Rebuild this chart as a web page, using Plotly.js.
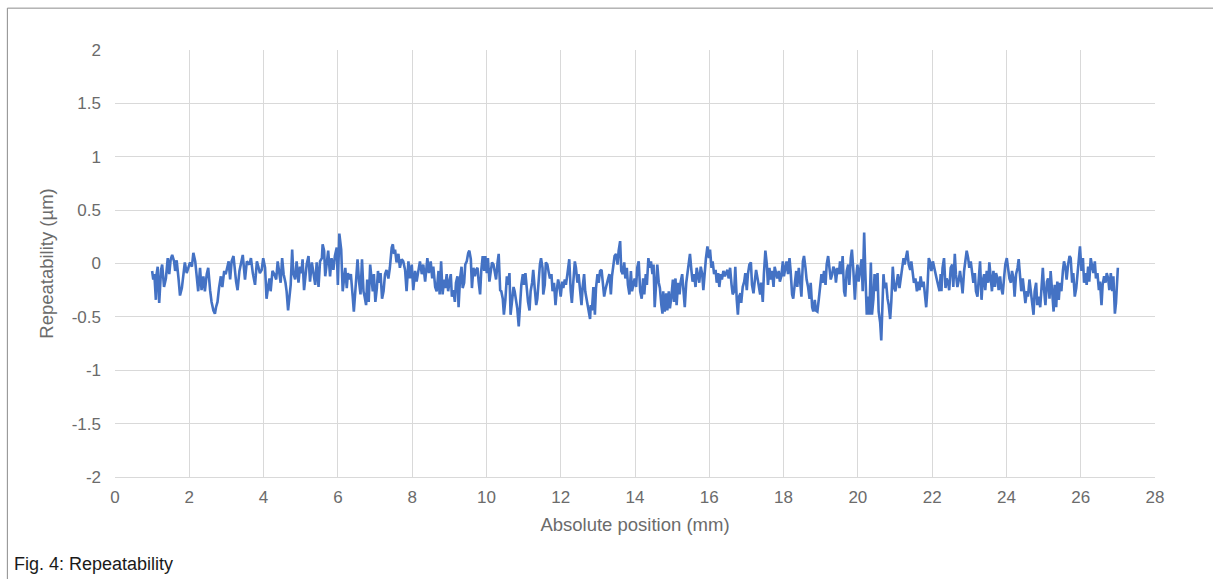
<!DOCTYPE html>
<html>
<head>
<meta charset="utf-8">
<script src="https://cdn.plot.ly/plotly-3.0.1.min.js"></script>
<style>
html,body{margin:0;padding:0;background:#fff;}
#chart{width:1213px;height:579px;}
</style>
</head>
<body>
<div id="chart"></div>
<script>
// Absolute position (mm)
const positionMm = [
1.00,1.03,1.06,1.08,1.10,1.12,1.15,1.19,1.24,1.27,1.32,1.37,1.42,1.46,1.50,1.54,1.59,1.62,1.66,1.71,1.75,1.80,1.84,1.88,1.93,1.97,2.02,2.07,2.11,2.16,2.20,2.24,2.29,2.33,2.38,2.42,2.47,2.51,2.56,2.60,2.65,2.69,2.72,2.76,2.80,2.85,2.89,2.94,2.98,3.03,3.06,3.10,3.14,3.19,3.22,3.26,3.30,3.35,
3.44,3.50,3.55,3.62,3.66,3.71,3.77,3.82,3.86,3.90,3.95,3.99,4.04,4.08,4.13,4.16,4.19,4.24,4.29,4.34,4.38,4.43,4.46,4.50,4.54,4.59,4.62,4.66,4.69,4.73,4.77,4.80,4.85,4.89,4.94,4.98,5.02,5.05,5.09,5.13,5.16,5.21,5.25,5.30,5.34,5.39,5.43,5.48,5.52,5.57,5.59,5.63,5.66,5.70,5.74,5.79,5.83,5.88,5.92,5.97,6.00,6.04,6.09,6.13,
6.17,6.20,6.24,6.27,6.31,6.35,6.40,6.43,6.47,6.51,6.53,6.57,6.61,6.65,6.69,6.72,6.76,6.79,6.83,6.87,6.90,6.94,6.97,7.01,7.05,7.08,7.12,7.15,7.19,7.23,7.27,7.31,7.36,7.40,7.45,7.48,7.51,7.54,7.58,7.63,7.67,7.72,7.76,7.81,7.85,7.90,7.94,7.99,8.03,8.08,8.12,8.17,8.21,8.26,8.30,8.35,8.41,8.45,8.50,8.54,8.57,8.62,8.66,8.71,8.74,
8.78,8.82,8.86,8.89,8.93,8.97,9.00,9.04,9.07,9.11,9.15,9.18,9.22,9.25,9.29,9.33,9.36,9.40,9.43,9.47,9.51,9.54,9.58,9.61,9.65,9.69,9.72,9.76,9.79,9.83,9.86,9.90,9.94,9.97,10.01,10.04,10.08,10.12,10.15,10.19,10.22,10.26,10.30,10.33,10.37,10.40,10.44,10.47,10.51,10.55,10.58,10.62,10.65,10.69,10.73,10.76,10.80,10.83,10.87,10.90,10.94,10.98,11.01,11.05,11.09,11.12,11.16,11.19,11.23,11.26,11.30,11.34,11.37,11.41,11.44,11.47,
11.51,11.53,11.57,11.60,11.64,11.68,11.71,11.75,11.78,11.82,11.86,11.89,11.93,11.96,12.00,12.04,12.07,12.11,12.14,12.18,12.22,12.23,12.27,12.30,12.34,12.38,12.41,12.45,12.48,12.52,12.56,12.59,12.63,12.66,12.70,12.74,12.77,12.79,12.81,12.84,12.88,12.92,12.95,12.99,13.02,13.06,13.10,13.13,13.17,13.20,13.24,13.27,13.31,13.35,13.38,13.42,13.45,13.49,13.53,13.56,13.60,13.63,13.67,13.71,13.74,13.78,13.81,13.85,13.89,13.92,13.96,13.99,14.03,14.06,14.10,14.14,
14.18,14.22,14.25,14.29,14.32,14.36,14.40,14.43,14.47,14.50,14.53,14.57,14.60,14.64,14.67,14.71,14.74,14.76,14.80,14.84,14.87,14.91,14.94,14.98,15.02,15.05,15.09,15.12,15.16,15.20,15.23,15.27,15.30,15.34,15.38,15.41,15.45,15.48,15.52,15.55,15.59,15.63,15.66,15.70,15.73,15.77,15.81,15.84,15.88,15.91,15.95,15.99,16.02,16.06,16.09,16.13,16.17,16.20,16.24,16.27,16.31,16.34,16.38,16.42,16.45,16.49,16.52,16.56,16.60,16.63,16.67,16.70,16.74,16.77,16.80,16.84,
16.86,16.90,16.94,16.97,17.01,17.04,17.08,17.12,17.15,17.19,17.22,17.26,17.30,17.33,17.37,17.40,17.44,17.47,17.51,17.55,17.58,17.62,17.65,17.69,17.73,17.76,17.80,17.83,17.87,17.90,17.94,17.98,18.01,18.05,18.08,18.12,18.16,18.19,18.23,18.26,18.30,18.34,18.37,18.41,18.44,18.48,18.52,18.55,18.59,18.62,18.66,18.70,18.73,18.77,18.80,18.84,18.87,18.91,18.95,18.98,19.02,19.05,19.09,19.13,19.16,19.20,19.23,19.27,19.31,19.34,19.38,19.41,19.45,19.49,19.52,
19.56,19.59,19.63,19.66,19.70,19.74,19.77,19.81,19.84,19.88,19.92,19.95,19.99,20.02,20.06,20.10,20.13,20.17,20.20,20.24,20.28,20.31,20.35,20.38,20.42,20.45,20.49,20.53,20.56,20.60,20.63,20.65,20.69,20.72,20.76,20.80,20.83,20.87,20.90,20.94,20.98,21.01,21.05,21.08,21.12,21.15,21.19,21.23,21.26,21.30,21.33,21.37,21.41,21.44,21.48,21.51,21.55,21.59,21.62,21.66,21.69,21.73,21.77,21.80,21.84,21.87,21.91,21.94,21.98,22.02,22.05,22.09,22.12,22.16,22.20,22.23,
22.25,22.28,22.32,22.36,22.39,22.43,22.46,22.50,22.54,22.57,22.61,22.64,22.68,22.72,22.75,22.79,22.82,22.86,22.90,22.93,22.97,23.00,23.04,23.07,23.11,23.15,23.18,23.22,23.25,23.29,23.33,23.36,23.40,23.43,23.47,23.51,23.54,23.58,23.61,23.65,23.69,23.72,23.76,23.79,23.83,23.86,23.90,23.94,23.97,24.01,24.04,24.08,24.12,24.15,24.19,24.22,24.26,24.30,24.33,24.37,24.40,24.44,24.48,24.51,24.55,24.58,24.62,24.66,24.69,24.73,24.76,24.80,24.83,24.87,24.91,
24.94,24.98,25.01,25.05,25.09,25.12,25.16,25.19,25.23,25.27,25.30,25.34,25.37,25.41,25.44,25.48,25.52,25.55,25.59,25.62,25.66,25.70,25.73,25.77,25.80,25.84,25.88,25.91,25.95,25.98,26.02,26.06,26.09,26.13,26.16,26.20,26.23,26.27,26.31,26.34,26.38,26.41,26.45,26.49,26.52,26.56,26.59,26.63,26.67,26.70,26.74,26.77,26.81,26.85,26.88,26.92,26.95,27.00
];

// Repeatability (µm)
const repeatabilityUm = [
-0.07,-0.15,-0.10,-0.24,-0.34,-0.10,-0.03,-0.37,-0.06,-0.01,-0.22,-0.14,0.05,-0.10,0.04,0.08,0.02,-0.07,0.03,-0.14,-0.30,-0.23,-0.10,0.01,-0.09,-0.04,0.01,-0.03,0.10,0.02,-0.14,-0.26,-0.04,-0.25,-0.12,-0.26,-0.10,-0.04,-0.25,-0.36,-0.44,-0.47,-0.41,-0.36,-0.23,-0.12,-0.22,-0.07,-0.10,-0.03,0.02,-0.15,0.02,0.07,-0.04,-0.17,-0.25,-0.07,
0.08,-0.15,0.02,-0.01,0.05,-0.09,-0.20,0.02,-0.03,-0.09,-0.06,0.05,-0.04,-0.33,-0.20,-0.14,-0.26,-0.07,-0.10,-0.15,0.02,-0.09,-0.18,0.05,-0.10,-0.18,-0.26,-0.44,-0.36,-0.20,0.13,-0.09,-0.15,0.02,-0.18,-0.03,-0.09,0.04,-0.25,-0.10,-0.01,0.07,-0.17,0.01,-0.10,-0.20,0.01,-0.22,0.02,0.05,0.18,0.12,-0.12,0.02,0.12,-0.12,0.05,-0.06,0.07,0.15,-0.20,0.28,0.13,-0.26,
-0.10,-0.04,-0.23,-0.09,-0.15,-0.10,-0.31,-0.45,-0.26,-0.10,0.04,-0.17,-0.29,0.04,-0.26,-0.31,-0.39,-0.15,-0.36,-0.01,-0.10,-0.26,-0.10,-0.36,-0.23,-0.07,-0.18,-0.09,-0.33,-0.26,-0.10,-0.06,-0.14,-0.04,0.15,0.18,0.09,0.13,0.01,0.09,-0.04,0.04,0.02,-0.06,-0.26,0.02,-0.14,-0.01,-0.25,-0.07,-0.17,-0.07,0.02,-0.10,-0.01,-0.17,0.05,-0.09,0.02,-0.14,-0.03,-0.22,-0.26,-0.07,-0.29,
0.02,-0.29,-0.15,-0.23,-0.10,-0.26,-0.18,-0.10,-0.31,-0.25,-0.36,-0.18,-0.12,-0.41,-0.14,-0.03,-0.23,-0.18,-0.01,0.02,0.10,0.12,0.04,-0.23,-0.04,-0.12,-0.06,-0.04,-0.17,-0.29,-0.07,0.07,-0.07,0.07,-0.09,0.05,-0.17,-0.04,0.01,-0.01,-0.07,-0.15,0.01,0.09,-0.25,-0.26,-0.33,-0.48,-0.34,-0.12,-0.20,-0.09,-0.48,-0.31,-0.22,-0.26,-0.36,-0.42,-0.59,-0.39,-0.20,-0.10,-0.20,-0.09,-0.26,-0.36,-0.44,-0.26,-0.18,-0.06,-0.23,-0.39,-0.33,-0.10,-0.01,0.05,
-0.04,-0.29,-0.20,0.01,-0.01,-0.09,-0.14,-0.10,-0.26,-0.18,-0.39,-0.26,-0.15,-0.20,-0.31,-0.17,-0.23,-0.15,-0.20,-0.10,0.02,0.04,-0.26,-0.37,-0.17,0.02,-0.04,-0.18,-0.10,-0.26,-0.39,-0.22,-0.10,-0.26,-0.34,-0.44,-0.50,-0.52,-0.39,-0.44,-0.22,-0.48,-0.23,-0.10,-0.18,-0.07,-0.06,-0.15,-0.31,-0.25,-0.17,-0.15,-0.10,-0.29,-0.12,-0.01,0.07,0.09,-0.01,0.12,0.21,-0.07,-0.10,0.01,-0.14,-0.04,-0.20,-0.29,-0.07,-0.26,-0.18,-0.14,-0.22,-0.04,0.02,-0.26,
-0.33,-0.14,-0.29,-0.10,-0.20,0.05,-0.04,0.02,-0.10,-0.01,-0.41,-0.10,-0.01,-0.18,-0.23,-0.39,-0.47,-0.26,-0.45,-0.28,-0.44,-0.26,-0.42,-0.31,-0.15,-0.36,-0.14,-0.39,-0.18,-0.29,-0.17,-0.10,-0.23,-0.41,-0.18,-0.10,-0.01,0.09,-0.07,-0.17,-0.10,-0.22,-0.04,-0.14,-0.18,-0.03,-0.10,-0.25,-0.04,0.05,0.16,0.05,0.13,-0.04,0.02,-0.10,-0.06,-0.18,-0.09,-0.22,-0.10,-0.15,-0.07,-0.12,-0.09,-0.06,-0.14,-0.04,-0.20,-0.29,-0.26,-0.03,-0.34,-0.48,-0.31,-0.28,
-0.37,-0.22,-0.17,-0.09,-0.25,-0.10,-0.01,0.01,-0.20,-0.28,-0.18,-0.06,-0.14,-0.23,-0.29,-0.18,-0.36,-0.10,0.12,-0.01,-0.20,-0.04,-0.15,-0.07,-0.22,-0.03,-0.10,-0.14,-0.07,-0.17,-0.12,0.02,-0.12,-0.03,0.02,-0.10,0.05,-0.07,-0.29,-0.33,-0.18,-0.07,-0.22,-0.04,-0.14,-0.31,0.02,0.07,-0.04,-0.15,-0.22,-0.33,-0.18,-0.41,-0.45,-0.34,-0.44,-0.45,-0.33,-0.23,-0.10,-0.18,-0.07,-0.20,-0.01,0.07,-0.03,-0.15,-0.10,-0.03,-0.06,-0.18,-0.04,-0.10,0.02,
-0.10,0.07,-0.26,-0.31,-0.07,-0.01,-0.20,0.05,0.13,-0.07,-0.34,-0.14,-0.01,-0.17,-0.04,0.04,-0.26,0.29,-0.07,-0.48,-0.31,-0.48,0.01,-0.48,-0.33,-0.10,-0.26,-0.09,-0.45,-0.55,-0.72,-0.45,-0.10,-0.23,-0.18,-0.33,-0.39,-0.52,-0.36,-0.03,-0.23,-0.26,-0.17,-0.10,-0.23,-0.15,-0.06,0.05,-0.01,0.09,0.12,-0.01,-0.06,0.02,-0.09,-0.18,-0.14,-0.26,-0.17,-0.25,-0.12,-0.22,-0.17,-0.26,-0.41,-0.26,0.05,0.02,-0.07,0.02,-0.04,-0.09,-0.14,-0.20,-0.26,-0.10,
-0.26,-0.04,0.05,-0.23,-0.14,-0.18,-0.25,-0.04,-0.01,-0.22,0.09,-0.10,-0.22,-0.15,-0.07,-0.18,-0.28,-0.07,0.02,0.12,0.05,-0.04,0.02,-0.07,-0.18,-0.09,-0.26,-0.31,-0.15,0.02,-0.34,-0.17,-0.10,-0.25,-0.07,-0.18,0.01,-0.14,-0.26,-0.07,-0.22,-0.09,-0.14,-0.25,-0.12,-0.23,-0.29,-0.12,-0.01,0.05,-0.04,-0.14,-0.18,-0.07,-0.14,-0.31,-0.10,-0.04,0.04,-0.17,-0.26,-0.14,-0.25,-0.37,-0.26,-0.31,-0.15,-0.26,-0.36,-0.48,-0.26,-0.18,-0.39,-0.31,-0.41,
-0.26,-0.04,-0.23,-0.39,-0.17,-0.14,-0.33,-0.07,-0.26,-0.45,-0.20,-0.41,-0.17,-0.34,-0.18,-0.26,-0.07,0.02,-0.04,-0.15,-0.01,0.07,0.05,-0.18,-0.09,-0.31,-0.23,-0.10,0.05,0.16,-0.07,0.05,-0.18,-0.09,-0.20,-0.03,-0.17,0.05,-0.03,-0.09,0.02,-0.14,-0.09,-0.25,-0.17,-0.39,-0.20,-0.12,-0.18,-0.09,-0.14,-0.25,-0.09,-0.26,-0.12,-0.47,-0.37,-0.04
];

const xTickValues = [0,2,4,6,8,10,12,14,16,18,20,22,24,26,28];
const yTickValues = [-2,-1.5,-1,-0.5,0,0.5,1,1.5,2];
const yTickLabels = ['-2','-1.5','-1','-0.5','0','0.5','1','1.5','2'];

const tickFont = {family: 'Liberation Sans, Arial, sans-serif', size: 17, color: '#6b6b6b'};
const titleFont = {family: 'Liberation Sans, Arial, sans-serif', size: 18.5, color: '#6b6b6b'};

const trace = {
  x: positionMm,
  y: repeatabilityUm,
  type: 'scatter',
  mode: 'lines',
  line: {color: '#4472C4', width: 2.6},
  hoverinfo: 'skip'
};

const layout = {
  width: 1213,
  height: 579,
  margin: {l: 115, r: 58, t: 50, b: 102},
  paper_bgcolor: '#ffffff',
  plot_bgcolor: '#ffffff',
  showlegend: false,
  font: tickFont,
  xaxis: {
    range: [0, 28],
    tickvals: xTickValues,
    ticks: '',
    showgrid: true,
    gridcolor: '#d9d9d9',
    gridwidth: 1,
    zeroline: false,
    showline: true,
    linecolor: '#d9d9d9',
    linewidth: 1,
    mirror: false,
    tickfont: tickFont,
    ticklabelstandoff: 5,
    title: {text: 'Absolute position (mm)', font: titleFont, standoff: 11},
    fixedrange: true
  },
  yaxis: {
    range: [-2, 2],
    tickvals: yTickValues,
    ticktext: yTickLabels,
    ticks: '',
    showgrid: true,
    gridcolor: '#d9d9d9',
    gridwidth: 1,
    zeroline: false,
    showline: false,
    tickfont: tickFont,
    ticklabelstandoff: 13,
    title: {text: 'Repeatability (µm)', font: titleFont, standoff: 13},
    fixedrange: true
  },
  shapes: [
    {type: 'line', xref: 'paper', yref: 'paper', x0: -0.1035, x1: 1.06, y0: 1.098, y1: 1.098,
     line: {color: '#8c8c8c', width: 1}},
    {type: 'line', xref: 'paper', yref: 'paper', x0: -0.1035, x1: -0.1035, y0: 1.098, y1: -0.25,
     line: {color: '#8c8c8c', width: 1}}
  ],
  annotations: [
    {text: 'Fig. 4: Repeatability', xref: 'paper', yref: 'paper', x: -0.0995, y: -0.203,
     xanchor: 'left', yanchor: 'middle', showarrow: false,
     font: {family: 'Liberation Sans, Arial, sans-serif', size: 18, color: '#1a1a1a'}}
  ]
};

Plotly.newPlot('chart', [trace], layout, {displayModeBar: false, staticPlot: true});
</script>
</body>
</html>
